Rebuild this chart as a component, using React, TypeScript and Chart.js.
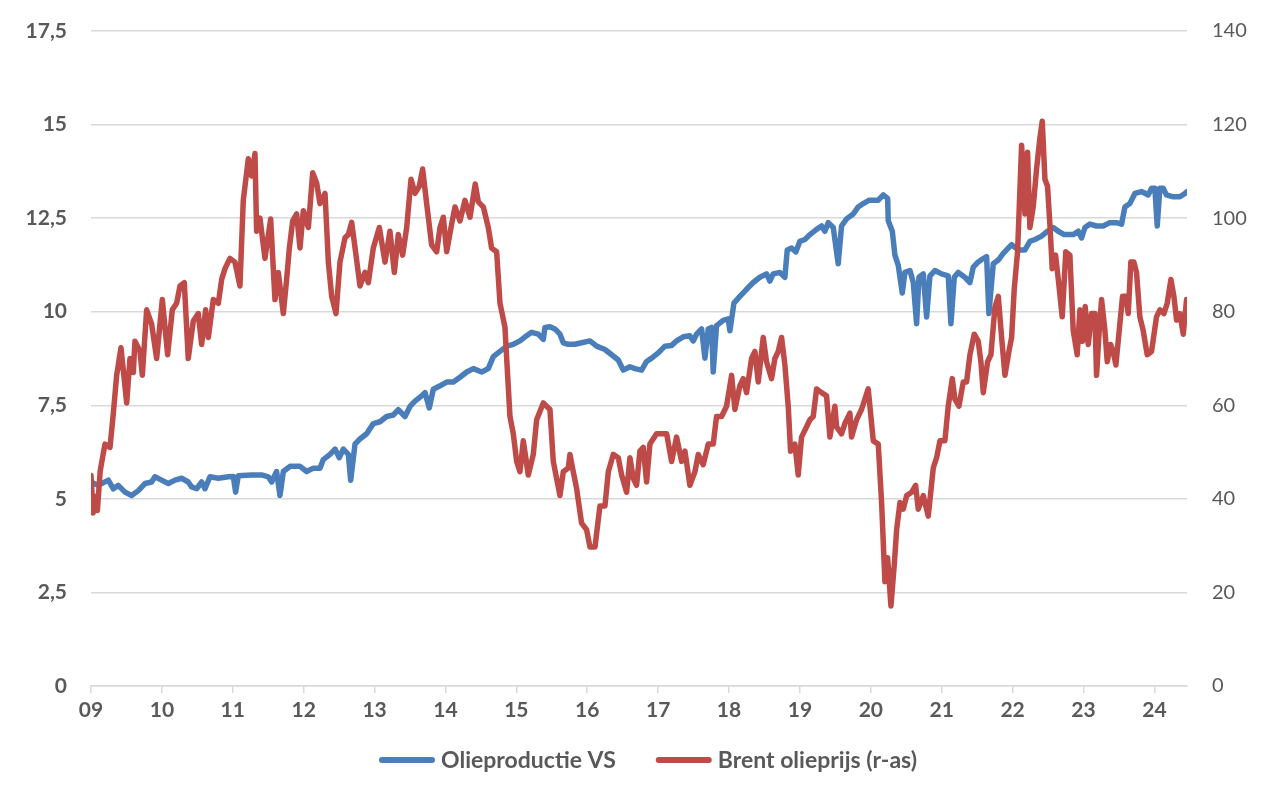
import React, { useEffect, useRef } from "react";
import { Chart, registerables } from "chart.js";

Chart.register(...registerables);

const yearTicks = [2009, 2010, 2011, 2012, 2013, 2014, 2015, 2016, 2017, 2018, 2019, 2020, 2021, 2022, 2023, 2024];
const leftTicks = [0, 2.5, 5, 7.5, 10, 12.5, 15, 17.5];
const rightTicks = [0, 20, 40, 60, 80, 100, 120, 140];

const productionLabel = "Olieproductie VS";
const brentLabel = "Brent olieprijs (r-as)";

// US oil production (mln barrels/day), [year, value]
const production2009_2014: [number, number][] = [
  [2009.0, 5.45], [2009.103, 5.36], [2009.244, 5.5], [2009.315, 5.27], [2009.385, 5.36], [2009.479, 5.18],
  [2009.573, 5.09], [2009.667, 5.22], [2009.761, 5.41], [2009.855, 5.45], [2009.902, 5.59], [2009.996, 5.5],
  [2010.09, 5.41], [2010.184, 5.5], [2010.278, 5.55], [2010.372, 5.45], [2010.419, 5.32], [2010.49, 5.27],
  [2010.561, 5.45], [2010.608, 5.27], [2010.678, 5.59], [2010.796, 5.55], [2010.937, 5.59], [2011.007, 5.6],
  [2011.04, 5.18], [2011.078, 5.62], [2011.266, 5.64], [2011.407, 5.64], [2011.501, 5.59], [2011.548, 5.45],
  [2011.618, 5.73], [2011.666, 5.09], [2011.713, 5.73], [2011.807, 5.87], [2011.948, 5.87], [2012.042, 5.73],
  [2012.136, 5.82], [2012.23, 5.82], [2012.277, 6.05], [2012.371, 6.19], [2012.442, 6.33], [2012.503, 6.1],
  [2012.559, 6.33], [2012.63, 6.19], [2012.663, 5.5], [2012.724, 6.46], [2012.794, 6.6], [2012.888, 6.74],
  [2012.982, 7.01], [2013.076, 7.06], [2013.17, 7.2], [2013.264, 7.24], [2013.335, 7.38], [2013.429, 7.2],
  [2013.5, 7.47], [2013.57, 7.61], [2013.664, 7.75], [2013.711, 7.84], [2013.772, 7.43], [2013.829, 7.93],
  [2013.923, 8.02], [2014.017, 8.12], [2014.111, 8.12], [2014.205, 8.25], [2014.299, 8.39], [2014.393, 8.48],
];
const production2014_2019: [number, number][] = [
  [2014.51, 8.39], [2014.604, 8.48], [2014.675, 8.8], [2014.769, 8.94], [2014.863, 9.08], [2014.957, 9.13],
  [2015.051, 9.22], [2015.145, 9.36], [2015.215, 9.45], [2015.309, 9.4], [2015.38, 9.26], [2015.403, 9.58],
  [2015.474, 9.6], [2015.544, 9.54], [2015.615, 9.4], [2015.662, 9.17], [2015.732, 9.13], [2015.826, 9.13],
  [2015.92, 9.17], [2016.038, 9.22], [2016.132, 9.08], [2016.25, 8.99], [2016.344, 8.85], [2016.438, 8.71],
  [2016.508, 8.44], [2016.602, 8.53], [2016.673, 8.48], [2016.767, 8.44], [2016.837, 8.67], [2016.908, 8.76],
  [2017.002, 8.9], [2017.096, 9.08], [2017.19, 9.1], [2017.26, 9.22], [2017.354, 9.33], [2017.448, 9.36],
  [2017.495, 9.22], [2017.542, 9.4], [2017.613, 9.54], [2017.66, 8.76], [2017.707, 9.54], [2017.754, 9.58],
  [2017.777, 8.39], [2017.824, 9.63], [2017.918, 9.77], [2017.989, 9.81], [2018.012, 9.49], [2018.069, 10.23],
  [2018.153, 10.41], [2018.247, 10.6], [2018.341, 10.78], [2018.435, 10.92], [2018.529, 11.01], [2018.576, 10.82],
  [2018.623, 11.01], [2018.717, 11.05], [2018.788, 10.92], [2018.821, 11.65], [2018.882, 11.7], [2018.943, 11.6],
];
const production2019_2024: [number, number][] = [
  [2019.0, 11.88], [2019.07, 11.93], [2019.141, 12.06], [2019.235, 12.2], [2019.305, 12.29], [2019.352, 12.15],
  [2019.399, 12.38], [2019.47, 12.25], [2019.54, 11.28], [2019.587, 12.29], [2019.658, 12.48], [2019.752, 12.61],
  [2019.822, 12.8], [2019.893, 12.89], [2019.978, 12.98], [2020.105, 12.98], [2020.176, 13.12], [2020.237, 13.03],
  [2020.246, 12.43], [2020.303, 12.15], [2020.34, 11.51], [2020.387, 11.24], [2020.444, 10.5], [2020.481, 11.05],
  [2020.552, 11.1], [2020.599, 10.78], [2020.646, 9.68], [2020.679, 10.92], [2020.74, 11.01], [2020.787, 9.86],
  [2020.834, 10.96], [2020.904, 11.1], [2020.998, 11.01], [2021.092, 10.96], [2021.13, 9.68], [2021.177, 10.92],
  [2021.233, 11.05], [2021.327, 10.92], [2021.398, 10.78], [2021.445, 11.19], [2021.515, 11.33], [2021.586, 11.42],
  [2021.633, 11.47], [2021.666, 9.95], [2021.727, 11.28], [2021.798, 11.38], [2021.868, 11.56], [2021.939, 11.7],
  [2021.986, 11.79], [2022.08, 11.65], [2022.174, 11.65], [2022.244, 11.88], [2022.315, 11.93], [2022.409, 12.02],
  [2022.493, 12.15], [2022.573, 12.25], [2022.644, 12.15], [2022.728, 12.06], [2022.855, 12.06], [2022.926, 12.15],
  [2022.973, 11.97], [2023.02, 12.25], [2023.09, 12.34], [2023.184, 12.29], [2023.278, 12.29], [2023.372, 12.38],
  [2023.466, 12.38], [2023.537, 12.34], [2023.584, 12.8], [2023.654, 12.89], [2023.725, 13.16], [2023.819, 13.21],
  [2023.913, 13.12], [2023.96, 13.3], [2024.007, 13.3], [2024.04, 12.29], [2024.077, 13.3], [2024.124, 13.3],
  [2024.171, 13.12], [2024.265, 13.07], [2024.36, 13.07], [2024.43, 13.16], [2024.46, 13.21],
];

// Oil price (USD/barrel, right axis), [year, value]
const brent2009_2011: [number, number][] = [
  [2009.0, 45], [2009.03, 37], [2009.06, 40.5], [2009.09, 37.5], [2009.13, 46], [2009.197, 51.7],
  [2009.268, 51], [2009.315, 58.3], [2009.362, 66.4], [2009.423, 72.3], [2009.503, 60.5], [2009.55, 70],
  [2009.597, 67], [2009.62, 73.7], [2009.691, 71.5], [2009.724, 66.4], [2009.785, 80.4], [2009.855, 77.4],
  [2009.926, 70], [2010.006, 82.6], [2010.081, 70.8], [2010.147, 80.4], [2010.208, 81.8], [2010.255, 85.5],
  [2010.316, 86.2], [2010.372, 70], [2010.443, 78], [2010.513, 79.6], [2010.561, 73], [2010.617, 80.4],
  [2010.655, 74.5], [2010.725, 82.6], [2010.796, 81.8], [2010.843, 86.9], [2010.89, 89.2], [2010.96, 91.4],
  [2011.031, 90.6], [2011.101, 85.5], [2011.148, 103.8], [2011.219, 112.7], [2011.266, 109], [2011.313, 113.8],
  [2011.336, 97.2], [2011.383, 100], [2011.454, 91.4], [2011.534, 99.8], [2011.595, 82.6], [2011.642, 88.4],
  [2011.713, 79.6], [2011.76, 87], [2011.798, 93.6], [2011.845, 99.4], [2011.901, 100.9], [2011.948, 93.6],
];
const brent2012_2014: [number, number][] = [
  [2011.995, 101.6], [2012.066, 98], [2012.127, 109.7], [2012.183, 107.5], [2012.23, 103.1], [2012.301, 105.3],
  [2012.348, 90.6], [2012.395, 83.3], [2012.456, 79.6], [2012.512, 90.6], [2012.583, 95.8], [2012.63, 96.5],
  [2012.677, 99.1], [2012.738, 92.1], [2012.794, 85.5], [2012.865, 88.4], [2012.912, 86.2], [2012.982, 93.6],
  [2013.067, 98], [2013.147, 90.6], [2013.217, 97.2], [2013.279, 88.4], [2013.335, 96.5], [2013.396, 92.1],
  [2013.453, 98], [2013.514, 108.3], [2013.57, 105.3], [2013.631, 106.8], [2013.678, 110.5], [2013.735, 103.1],
  [2013.805, 94.3], [2013.876, 92.8], [2013.923, 98], [2013.97, 100.2], [2014.017, 92.8], [2014.087, 98.7],
  [2014.134, 102.4], [2014.205, 99.4], [2014.275, 103.8], [2014.346, 100.2], [2014.42, 107.3], [2014.463, 103.5],
  [2014.487, 103.1], [2014.534, 102.4], [2014.604, 98], [2014.651, 93.6], [2014.722, 92.8], [2014.769, 81.8],
  [2014.839, 76.7], [2014.877, 66.4], [2014.91, 57.6], [2014.957, 53.9],
];
const brent2015_2017: [number, number][] = [
  [2015.004, 48], [2015.051, 45.8], [2015.098, 52.4], [2015.168, 45.1], [2015.239, 49.5], [2015.286, 56.9],
  [2015.38, 60.5], [2015.474, 59.1], [2015.521, 48], [2015.615, 40.7], [2015.662, 45.8], [2015.732, 46.6],
  [2015.756, 49.5], [2015.803, 45.8], [2015.85, 42.2], [2015.92, 34.8], [2015.991, 33.4], [2016.038, 29.7],
  [2016.109, 29.7], [2016.179, 38.5], [2016.25, 38.5], [2016.297, 45.8], [2016.367, 49.5], [2016.438, 48.8],
  [2016.485, 45.1], [2016.555, 41.4], [2016.602, 48.8], [2016.649, 44.4], [2016.696, 42.9], [2016.743, 50.2],
  [2016.79, 51], [2016.837, 43.6], [2016.884, 51.7], [2016.978, 53.9], [2017.049, 53.9], [2017.12, 53.9],
  [2017.19, 48], [2017.26, 53.2], [2017.331, 48], [2017.378, 50.2], [2017.448, 42.9], [2017.519, 45.8],
  [2017.566, 49.5], [2017.636, 47.3], [2017.707, 51.7], [2017.777, 51.7], [2017.824, 57.6], [2017.895, 57.6],
  [2017.965, 59.8],
];
const brent2018_2020: [number, number][] = [
  [2018.036, 66.4], [2018.083, 59.1], [2018.153, 64.2], [2018.2, 65.7], [2018.247, 62.7], [2018.318, 70],
  [2018.365, 71.5], [2018.412, 65], [2018.482, 74.5], [2018.529, 69.3], [2018.6, 65.7], [2018.647, 70],
  [2018.694, 71.5], [2018.741, 74.5], [2018.788, 68.6], [2018.835, 59.8], [2018.868, 50.2], [2018.929, 51.7],
  [2018.976, 45.1], [2019.023, 53.2], [2019.094, 55.4], [2019.141, 56.9], [2019.188, 57.6], [2019.235, 63.5],
  [2019.305, 62.7], [2019.376, 62], [2019.423, 53.2], [2019.493, 59.8], [2019.517, 55.4], [2019.587, 53.9],
  [2019.634, 56.1], [2019.705, 58.3], [2019.728, 53.2], [2019.799, 56.9], [2019.869, 59.1], [2019.963, 63.5],
  [2020.035, 52.4], [2020.105, 51.7], [2020.152, 39.2], [2020.199, 22.3], [2020.237, 27.4], [2020.284, 17.1],
  [2020.331, 26], [2020.364, 33.4], [2020.411, 39.2], [2020.458, 37.8], [2020.505, 40.7], [2020.575, 41.4],
  [2020.632, 42.9], [2020.669, 37.8], [2020.74, 40.7], [2020.81, 36.3], [2020.881, 46.6], [2020.928, 48.8],
  [2020.975, 52.4],
];
const brent2021_2024: [number, number][] = [
  [2021.045, 52.4], [2021.092, 59.8], [2021.149, 65.7], [2021.186, 61.3], [2021.243, 59.8], [2021.304, 65],
  [2021.351, 65], [2021.398, 70.8], [2021.459, 75.2], [2021.515, 73.7], [2021.553, 69.3], [2021.586, 62.7],
  [2021.647, 69.3], [2021.694, 70.8], [2021.751, 81], [2021.798, 83.3], [2021.845, 74.5], [2021.892, 66.4],
  [2021.948, 71.5], [2021.986, 74.5], [2022.023, 84.8], [2022.07, 92.8], [2022.127, 115.6], [2022.174, 100.9],
  [2022.211, 114.1], [2022.244, 98], [2022.291, 102.4], [2022.338, 110.5], [2022.385, 117.1], [2022.418, 120.7],
  [2022.456, 108.3], [2022.493, 106.8], [2022.526, 98.7], [2022.559, 89.2], [2022.606, 92.1], [2022.644, 87],
  [2022.7, 78.9], [2022.75, 92.8], [2022.808, 92.1], [2022.855, 76], [2022.911, 70.8], [2022.949, 80.4],
  [2022.987, 73.7], [2023.024, 81.1], [2023.067, 73], [2023.114, 79.6], [2023.161, 79.6], [2023.184, 66.4],
  [2023.222, 76], [2023.255, 82.6], [2023.302, 76], [2023.335, 69.3], [2023.382, 73], [2023.419, 71.5],
  [2023.457, 68.6], [2023.504, 76], [2023.551, 83.3], [2023.598, 83.3], [2023.631, 79.6], [2023.668, 90.6],
  [2023.711, 90.6], [2023.748, 88.4], [2023.795, 78.9], [2023.842, 76], [2023.899, 70.8], [2023.96, 71.5],
  [2024.03, 78.9], [2024.077, 80.4], [2024.134, 79.6], [2024.181, 81.8], [2024.233, 86.9], [2024.275, 83.3],
  [2024.313, 78.2], [2024.36, 79.6], [2024.407, 75.2], [2024.454, 82.6],
];

const productionPoints = [...production2009_2014, ...production2014_2019, ...production2019_2024];
const brentPoints = [...brent2009_2011, ...brent2012_2014, ...brent2015_2017, ...brent2018_2020, ...brent2021_2024];

const BLUE = "#4a7ebb";
const RED = "#be4b48";
const TEXT = "#595959";
const GRID = "#d9d9d9";
const FONT = "Lato, 'Open Sans', sans-serif";

// Legend drawn below the x axis: line swatch, short gap, bold label.
const legendPlugin = {
  id: "bottomLegend",
  afterDraw(chart: any) {
    const ctx = chart.ctx as CanvasRenderingContext2D;
    const area = chart.chartArea;
    ctx.save();
    ctx.font = `bold 23px ${FONT}`;
    ctx.textBaseline = "middle";
    ctx.textAlign = "left";
    const lineW = 56;
    const gapText = 6;
    const gapItem = 40;
    const items = chart.data.datasets.map((ds: any) => ({ label: ds.label as string, color: ds.borderColor as string }));
    const widths = items.map((it: any) => lineW + gapText + ctx.measureText(it.label).width);
    const total = widths.reduce((a: number, b: number) => a + b, 0) + gapItem * (items.length - 1);
    let x = (area.left + area.right) / 2 + 9 - total / 2;
    const y = area.bottom + 74;
    items.forEach((it: any, i: number) => {
      ctx.strokeStyle = it.color;
      ctx.lineWidth = 6;
      ctx.lineCap = "round";
      ctx.beginPath();
      ctx.moveTo(x + 3, y);
      ctx.lineTo(x + lineW - 3, y);
      ctx.stroke();
      ctx.fillStyle = TEXT;
      ctx.fillText(it.label, x + lineW + gapText, y + 1);
      x += widths[i] + gapItem;
    });
    ctx.restore();
  },
};

const keepPlotTop = (s: any) => {
  s.paddingTop = 12;
  s.paddingBottom = 12;
};

export default function App() {
  const ref = useRef<HTMLCanvasElement>(null);

  useEffect(() => {
    document.body.style.margin = "0";
    const canvas = ref.current;
    if (!canvas) return;
    const chart = new Chart(canvas, {
      type: "line",
      data: {
        datasets: [
          {
            label: productionLabel,
            data: productionPoints.map(([x, y]) => ({ x, y })),
            yAxisID: "y",
            borderColor: BLUE,
            backgroundColor: BLUE,
            borderWidth: 5.5,
            pointRadius: 0,
            tension: 0,
            borderJoinStyle: "round",
            borderCapStyle: "round",
            order: 1,
          },
          {
            label: brentLabel,
            data: brentPoints.map(([x, y]) => ({ x, y })),
            yAxisID: "y1",
            borderColor: RED,
            backgroundColor: RED,
            borderWidth: 5.5,
            pointRadius: 0,
            tension: 0,
            borderJoinStyle: "round",
            borderCapStyle: "round",
            order: 0,
          },
        ],
      },
      options: {
        responsive: false,
        animation: false,
        events: [],
        layout: { padding: { top: 31, bottom: 66, left: 0, right: 0 } },
        scales: {
          x: {
            type: "linear",
            min: 2009,
            max: 2024.46,
            afterBuildTicks: (s: any) => {
              s.ticks = yearTicks.map((v) => ({ value: v }));
            },
            afterFit: (s: any) => {
              s.height = 40;
            },
            ticks: {
              autoSkip: false,
              maxRotation: 0,
              padding: 5,
              color: TEXT,
              font: { family: FONT, size: 21, weight: "bold" },
              callback: (v: any) => String(v).slice(2),
            },
            grid: { drawOnChartArea: false, drawTicks: true, tickLength: 7, color: GRID, lineWidth: 1.5 },
            border: { display: true, color: GRID, width: 1.5 },
          },
          y: {
            position: "left",
            min: 0,
            max: 17.5,
            afterBuildTicks: (s: any) => {
              s.ticks = leftTicks.map((v) => ({ value: v }));
            },
            afterFit: (s: any) => {
              s.width = 91;
              keepPlotTop(s);
            },
            ticks: {
              padding: 24,
              color: TEXT,
              font: { family: FONT, size: 21, weight: "bold" },
              callback: (v: any) => String(v).replace(".", ","),
            },
            grid: { color: GRID, lineWidth: 1.5, drawTicks: false },
            border: { display: false },
          },
          y1: {
            position: "right",
            min: 0,
            max: 140,
            afterBuildTicks: (s: any) => {
              s.ticks = rightTicks.map((v) => ({ value: v }));
            },
            afterFit: (s: any) => {
              s.width = 93;
              keepPlotTop(s);
            },
            ticks: {
              padding: 25,
              color: TEXT,
              font: { family: FONT, size: 20, weight: "normal" },
            },
            grid: { display: false, drawTicks: false },
            border: { display: false },
          },
        },
        plugins: {
          tooltip: { enabled: false },
          legend: { display: false },
        },
      },
      plugins: [legendPlugin],
    } as any);
    return () => chart.destroy();
  }, []);

  return (
    <div style={{ width: 1280, height: 792, background: "#fff" }}>
      <canvas ref={ref} width={1280} height={792} style={{ display: "block" }} />
    </div>
  );
}
